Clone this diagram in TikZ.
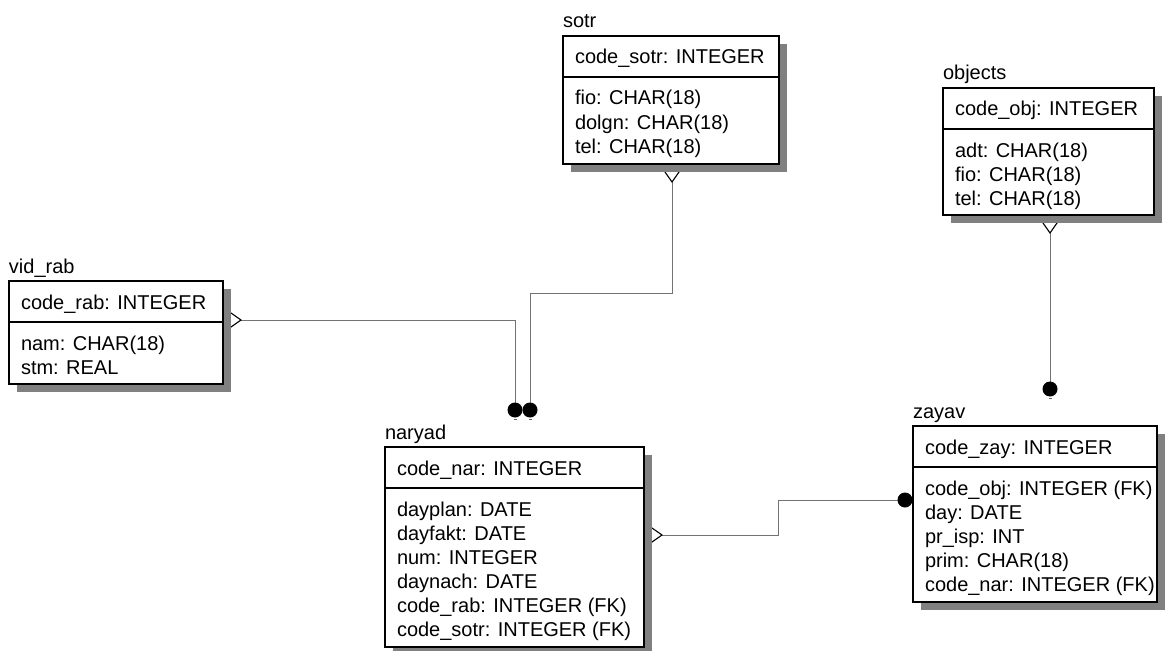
\documentclass[tikz,border=0pt]{standalone}
\usepackage{fontspec}
\setmainfont{Liberation Sans}
\usetikzlibrary{calc,backgrounds}
\pgfdeclarelayer{canvas}
\pgfsetlayers{canvas,background,main}
\tikzset{
  ebox/.style={draw=black, line width=1.2pt, fill=white, inner sep=0pt, outer sep=0pt},
  etext/.style={anchor=base west, inner sep=0pt, outer sep=0pt, font=\fontsize{20}{24}\selectfont},
  shadowc/.style={fill=black!50},
  conn/.style={draw=black!55, line width=1pt},
  openmark/.style={draw=black, line width=1.1pt, fill=white},
  dotmark/.style={fill=black},
  tick/.style={draw=black!60, line width=0.8pt}
}
\newcommand{\erent}[8]{%
  \fill[shadowc] (#2+8,-#3-8) rectangle (#4+8,-#5-8);
  \node[ebox, minimum width={#4-#2}, minimum height={#5-#3}, anchor=north west] (#1) at (#2,-#3) {};
  \draw[line width=1.2pt] ($(#1.north west)+(0,-41)$) -- ($(#1.north east)+(0,-41)$);
  \node[etext] (#1-label) at (#2,-#3+8) {#6};
  \node[etext] (#1-head) at (#2+12,-#3-28) {#7};
  \foreach \r [count=\i from 0] in {#8} {
    \node[etext] (#1-r\i) at (#2+12,{-#3-41-28-24*\i}) {\r};
  }
}
\begin{document}
\begin{tikzpicture}[x=1pt,y=1pt]
\begin{pgfonlayer}{canvas}
\fill[white] (0,0) rectangle (1166,-650);
\end{pgfonlayer}
\useasboundingbox (0,0) rectangle (1166,-650);

\erent{vidrab}{9}{281}{223}{384}{vid\_rab}{code\_rab: INTEGER}{nam: CHAR(18), stm: REAL}
\erent{sotr}{563}{36}{779}{164}{sotr}{code\_sotr: INTEGER}{fio: CHAR(18), dolgn: CHAR(18), tel: CHAR(18)}
\erent{objects}{943}{88}{1154}{215}{objects}{code\_obj: INTEGER}{adt: CHAR(18), fio: CHAR(18), tel: CHAR(18)}
\erent{naryad}{385}{447}{644}{647}{naryad}{code\_nar: INTEGER}{dayplan: DATE, dayfakt: DATE, num: INTEGER, daynach: DATE, code\_rab: INTEGER (FK), code\_sotr: INTEGER (FK)}
\erent{zayav}{913}{426}{1157}{602}{zayav}{code\_zay: INTEGER}{code\_obj: INTEGER (FK), day: DATE, pr\_isp: INT, prim: CHAR(18), code\_nar: INTEGER (FK)}

% connector end points
\coordinate (vr-d) at ($(vidrab.north east)+(8,-39)$);
\coordinate (vr-t) at ($(vr-d)+(10,0)$);
\coordinate (vr-c) at (515,-410);
\coordinate (so-d) at ($(sotr.south west)+(109,-8)$);
\coordinate (so-t) at ($(so-d)+(0,-10)$);
\coordinate (so-c) at (530,-410);
\coordinate (ob-d) at ($(objects.south west)+(107,-8)$);
\coordinate (ob-t) at ($(ob-d)+(0,-10)$);
\coordinate (ob-c) at (1050,-389);
\coordinate (na-d) at ($(naryad.north east)+(8,-88)$);
\coordinate (na-t) at ($(na-d)+(10,0)$);
\coordinate (za-c) at ($(zayav.north west)+(-8,-74)$);

\begin{pgfonlayer}{background}
  % vid_rab -> naryad
  \draw[conn] (vr-t) -| (vr-c);
  \draw[openmark] ($(vr-d)+(-10,0)$) -- ($(vr-d)+(0,7)$) -- (vr-t) -- ($(vr-d)+(0,-7)$) -- cycle;
  \fill[dotmark] (vr-c) circle (7.5);
  \draw[tick] ($(vr-c)+(-1.5,-9.5)$) -- ($(vr-c)+(1.5,-9.5)$);
  % sotr -> naryad
  \draw[conn] (so-t) |- (530,-293) -- (so-c);
  \draw[openmark] ($(so-d)+(0,10)$) -- ($(so-d)+(7,0)$) -- (so-t) -- ($(so-d)+(-7,0)$) -- cycle;
  \fill[dotmark] (so-c) circle (7.5);
  \draw[tick] ($(so-c)+(-1.5,-9.5)$) -- ($(so-c)+(1.5,-9.5)$);
  % objects -> zayav
  \draw[conn] (ob-t) -- (ob-c);
  \draw[openmark] ($(ob-d)+(0,10)$) -- ($(ob-d)+(7,0)$) -- (ob-t) -- ($(ob-d)+(-7,0)$) -- cycle;
  \fill[dotmark] (ob-c) circle (7.5);
  \draw[tick] ($(ob-c)+(-1.5,-9.5)$) -- ($(ob-c)+(1.5,-9.5)$);
  % naryad -> zayav
  \draw[conn] (na-t) -- (778,-535) |- (za-c);
  \draw[openmark] ($(na-d)+(-10,0)$) -- ($(na-d)+(0,7)$) -- (na-t) -- ($(na-d)+(0,-7)$) -- cycle;
\end{pgfonlayer}
\fill[dotmark] (za-c) circle (7.5);
\end{tikzpicture}
\end{document}
